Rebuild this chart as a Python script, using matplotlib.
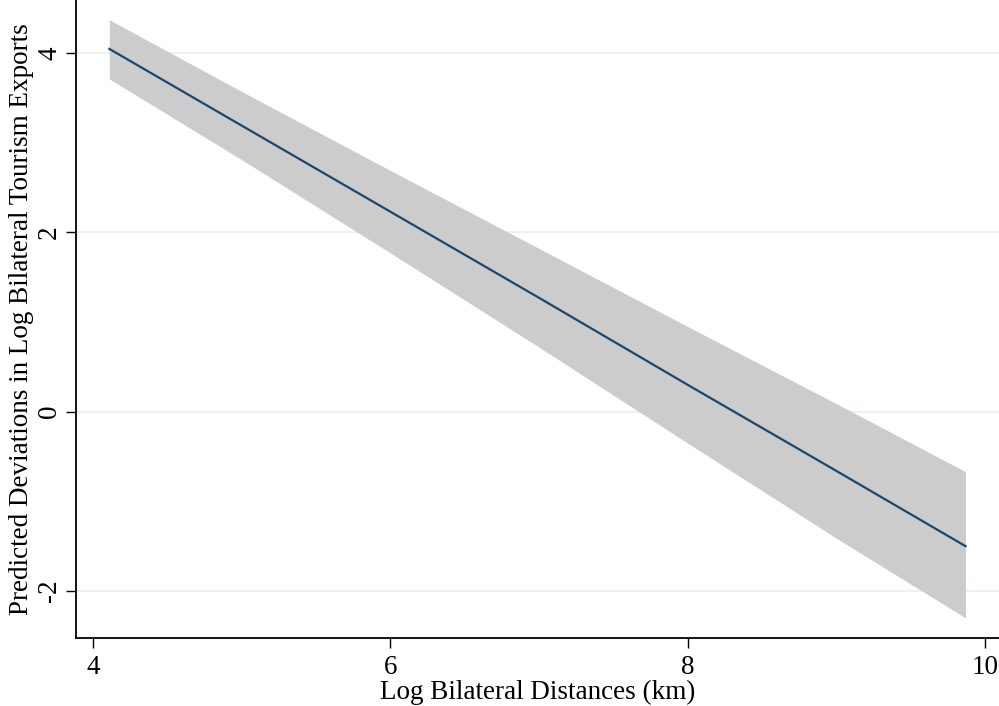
import matplotlib
matplotlib.use("Agg")
import matplotlib.pyplot as plt

plt.rcParams['font.family'] = ['Liberation Serif', 'DejaVu Serif']

# predicted line and 95% band
dist = [4.11, 5.0, 6.0, 7.0, 8.0, 9.0, 9.87]
pred = [4.045, 3.19, 2.23, 1.27, 0.30, -0.66, -1.50]
upper = [4.37, 3.57, 2.69, 1.82, 0.95, 0.09, -0.67]
lower = [3.71, 2.81, 1.77, 0.72, -0.35, -1.41, -2.30]

xticks = [4, 6, 8, 10]
yticks = [-2, 0, 2, 4]

fig = plt.figure(figsize=(9.99, 7.06), dpi=100)
ax = fig.add_axes([0.0761, 0.0963, 0.9239, 0.9037])

ax.fill_between(dist, lower, upper, color='#cccccc', linewidth=0, zorder=2)
ax.plot(dist, pred, color='#1a476f', linewidth=1.6, zorder=3)

ax.set_xlim(3.886, 10.095)
ax.set_ylim(-2.524, 4.59)
ax.set_xticks(xticks)
ax.set_yticks(yticks)
ax.set_yticklabels([str(t) for t in yticks], rotation=90, va='center')

for t in yticks:
    ax.axhline(t, color='#eaf2f3', linewidth=1.4, zorder=1)

ax.spines['top'].set_visible(False)
ax.spines['right'].set_visible(False)
ax.spines['left'].set_linewidth(1.3)
ax.spines['bottom'].set_linewidth(1.3)
ax.tick_params(axis='both', direction='out', length=7, width=1, labelsize=19.5, pad=3)
ax.tick_params(axis='x', pad=5)

ax.set_xlabel('Log Bilateral Distances (km)', fontsize=19.5, labelpad=0)
ax.set_ylabel('Predicted Deviations in Log Bilateral Tourism Exports', fontsize=19.5, labelpad=2)

fig.savefig('out.png', dpi=100)
